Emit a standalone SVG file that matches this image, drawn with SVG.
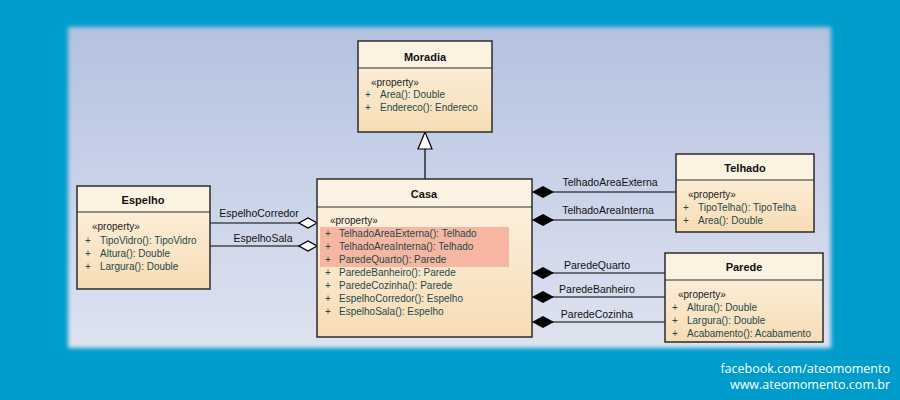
<svg xmlns="http://www.w3.org/2000/svg" width="900" height="400" viewBox="0 0 900 400">
<defs>
<linearGradient id="panel" x1="0" y1="0" x2="0" y2="1">
<stop offset="0" stop-color="#b4c2e0"/>
<stop offset="1" stop-color="#dfe3f0"/>
</linearGradient>
<linearGradient id="box" x1="0" y1="0" x2="0" y2="1">
<stop offset="0" stop-color="#fdf4e6"/>
<stop offset="1" stop-color="#f7dcb4"/>
</linearGradient>
<filter id="blur" x="-5%" y="-5%" width="110%" height="110%"><feGaussianBlur stdDeviation="2"/></filter>
<marker id="filled" viewBox="0 0 22 12" refX="0" refY="6" markerWidth="22" markerHeight="12" markerUnits="userSpaceOnUse" orient="auto">
<path d="M0,6 L11,0 L22,6 L11,12 Z" fill="#000"/>
</marker>
<marker id="hollow" viewBox="0 0 20 12" refX="0" refY="6" markerWidth="20" markerHeight="12" markerUnits="userSpaceOnUse" orient="auto">
<path d="M1,6 L10,1 L19,6 L10,11 Z" fill="#fff" stroke="#000" stroke-width="1.2"/>
</marker>
</defs>
<style>
.box{fill:url(#box);stroke:#2b2b2b;stroke-width:1.5}
.hdr{fill:#fcf2e2}
.sep{stroke:#2b2b2b;stroke-width:1.2}
.title{font-family:"Liberation Sans",Arial,sans-serif;font-size:11px;font-weight:bold;fill:#111;text-anchor:middle}
.m{font-family:"Liberation Sans",Arial,sans-serif;font-size:10px;fill:#1e4a4a}
.st{font-family:"Liberation Sans",Arial,sans-serif;font-size:10px;fill:#222}
.lbl{font-family:"Liberation Sans",Arial,sans-serif;font-size:10.5px;fill:#111;text-anchor:middle}
.ln{stroke:#000;stroke-width:1.2;fill:none}
.wm{font-family:"Open Sans","DejaVu Sans",sans-serif;font-size:12.5px;fill:#fff;text-anchor:end}
</style>
<rect x="0" y="0" width="900" height="400" fill="#009ccc"/>
<rect x="68" y="27" width="763" height="321" fill="url(#panel)" filter="url(#blur)"/>

<g id="connectors">
<line class="ln" x1="425" y1="149" x2="425" y2="179"/>
<path d="M425,132 L432,149 L418,149 Z" fill="#fff" stroke="#000" stroke-width="1.2"/>
<line class="ln" x1="318" y1="223" x2="210" y2="223" marker-start="url(#hollow)"/>
<line class="ln" x1="318" y1="246" x2="210" y2="246" marker-start="url(#hollow)"/>
<line class="ln" x1="532" y1="192" x2="676" y2="192" marker-start="url(#filled)"/>
<line class="ln" x1="532" y1="220" x2="676" y2="220" marker-start="url(#filled)"/>
<line class="ln" x1="532" y1="273" x2="665" y2="273" marker-start="url(#filled)"/>
<line class="ln" x1="532" y1="297" x2="665" y2="297" marker-start="url(#filled)"/>
<line class="ln" x1="532" y1="322" x2="665" y2="322" marker-start="url(#filled)"/>
<text class="lbl" x="259" y="217">EspelhoCorredor</text>
<text class="lbl" x="263" y="242">EspelhoSala</text>
<text class="lbl" x="610" y="186">TelhadoAreaExterna</text>
<text class="lbl" x="608" y="214">TelhadoAreaInterna</text>
<text class="lbl" x="597" y="269">ParedeQuarto</text>
<text class="lbl" x="597" y="293">ParedeBanheiro</text>
<text class="lbl" x="597" y="318">ParedeCozinha</text>
</g>

<g id="Moradia">
<rect class="box" x="358" y="41" width="134" height="91"/>
<rect class="hdr" x="359" y="42" width="132" height="26"/>
<line class="sep" x1="358" y1="68" x2="492" y2="68"/>
<text class="title" x="425" y="61">Moradia</text>
<text class="st" x="371" y="86">«property»</text>
<text class="m" x="365" y="98">+</text><text class="m" x="380" y="98">Area(): Double</text>
<text class="m" x="365" y="111">+</text><text class="m" x="380" y="111">Endereco(): Endereco</text>
</g>

<g id="Casa">
<rect class="box" x="317" y="179" width="215" height="158"/>
<rect class="hdr" x="318" y="180" width="213" height="27"/>
<line class="sep" x1="317" y1="207" x2="532" y2="207"/>
<text class="title" x="424" y="198">Casa</text>
<rect x="320" y="227" width="189" height="40" fill="#f7b6a2"/>
<text class="st" x="330" y="224">«property»</text>
<text class="m" x="325" y="237">+</text><text class="m" x="339" y="237">TelhadoAreaExterna(): Telhado</text>
<text class="m" x="325" y="250">+</text><text class="m" x="339" y="250">TelhadoAreaInterna(): Telhado</text>
<text class="m" x="325" y="263">+</text><text class="m" x="339" y="263">ParedeQuarto(): Parede</text>
<text class="m" x="325" y="276">+</text><text class="m" x="339" y="276">ParedeBanheiro(): Parede</text>
<text class="m" x="325" y="289">+</text><text class="m" x="339" y="289">ParedeCozinha(): Parede</text>
<text class="m" x="325" y="302">+</text><text class="m" x="339" y="302">EspelhoCorredor(): Espelho</text>
<text class="m" x="325" y="315">+</text><text class="m" x="339" y="315">EspelhoSala(): Espelho</text>
</g>

<g id="Espelho">
<rect class="box" x="77" y="186" width="133" height="103"/>
<rect class="hdr" x="78" y="187" width="131" height="25"/>
<line class="sep" x1="77" y1="212" x2="210" y2="212"/>
<text class="title" x="143" y="204">Espelho</text>
<text class="st" x="92" y="230">«property»</text>
<text class="m" x="85" y="244">+</text><text class="m" x="100" y="244">TipoVidro(): TipoVidro</text>
<text class="m" x="85" y="257">+</text><text class="m" x="100" y="257">Altura(): Double</text>
<text class="m" x="85" y="270">+</text><text class="m" x="100" y="270">Largura(): Double</text>
</g>

<g id="Telhado">
<rect class="box" x="676" y="154" width="138" height="78"/>
<rect class="hdr" x="677" y="155" width="136" height="25"/>
<line class="sep" x1="676" y1="180" x2="814" y2="180"/>
<text class="title" x="745" y="172">Telhado</text>
<text class="st" x="688" y="198">«property»</text>
<text class="m" x="683" y="211">+</text><text class="m" x="698" y="211">TipoTelha(): TipoTelha</text>
<text class="m" x="683" y="224">+</text><text class="m" x="698" y="224">Area(): Double</text>
</g>

<g id="Parede">
<rect class="box" x="665" y="253" width="158" height="89"/>
<rect class="hdr" x="666" y="254" width="156" height="26"/>
<line class="sep" x1="665" y1="280" x2="823" y2="280"/>
<text class="title" x="744" y="271">Parede</text>
<text class="st" x="678" y="298">«property»</text>
<text class="m" x="672" y="311">+</text><text class="m" x="687" y="311">Altura(): Double</text>
<text class="m" x="672" y="324">+</text><text class="m" x="687" y="324">Largura(): Double</text>
<text class="m" x="672" y="337">+</text><text class="m" x="687" y="337">Acabamento(): Acabamento</text>
</g>

<text class="wm" x="890" y="373">facebook.com/ateomomento</text>
<text class="wm" x="890" y="389">www.ateomomento.com.br</text>
</svg>
